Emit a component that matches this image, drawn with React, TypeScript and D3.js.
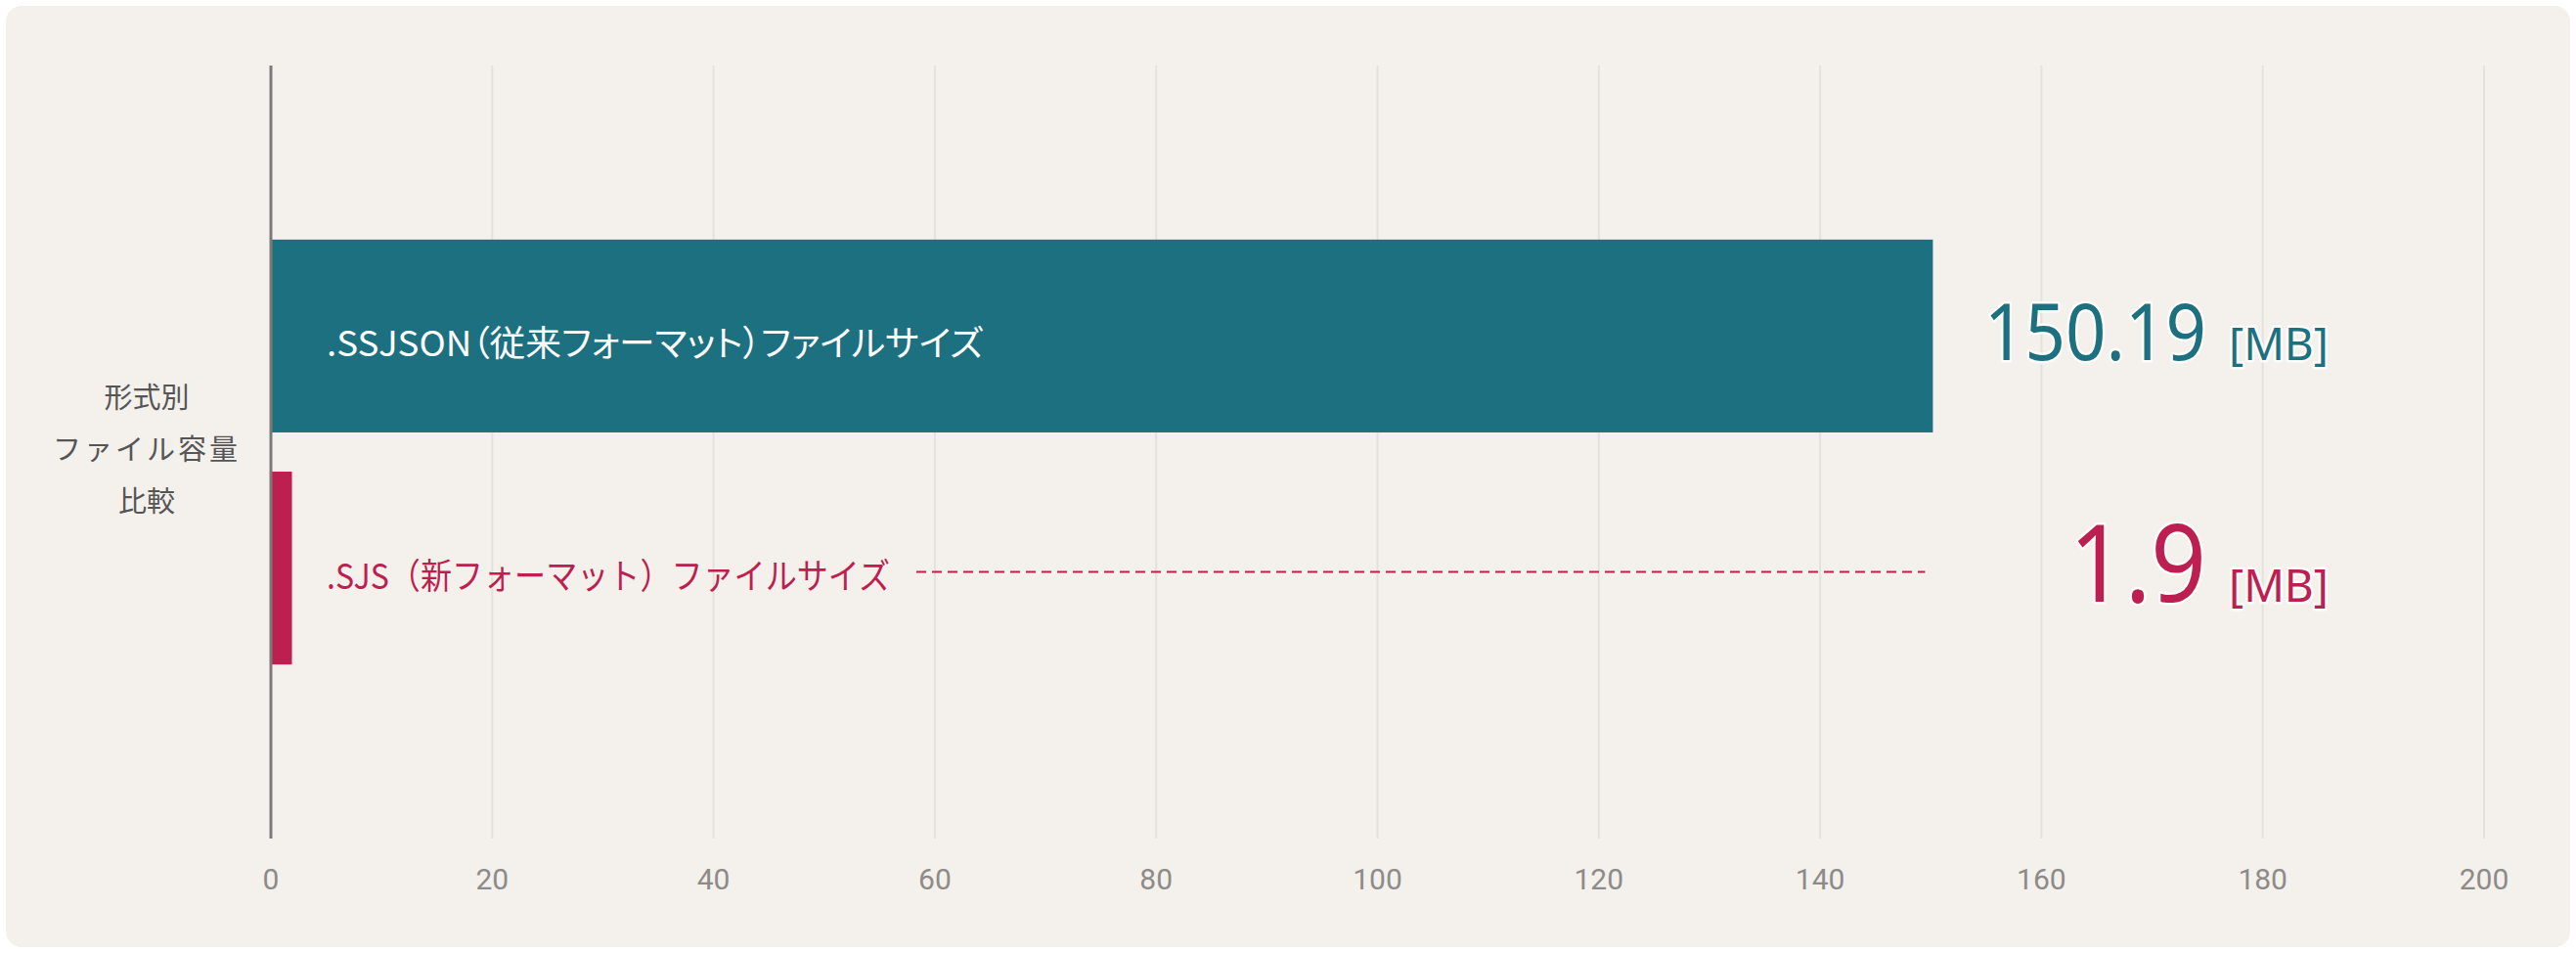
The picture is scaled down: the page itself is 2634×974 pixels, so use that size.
import * as d3 from 'd3'
import { useEffect, useRef } from 'react'

const categories = ['.SSJSON（従来フォーマット）ファイルサイズ', '.SJS（新フォーマット）ファイルサイズ'];
const values = [150.19, 1.9];
const valueLabels = ['150.19', '1.9'];
const unitLabel = '[MB]';
const barColors = ['#1d7080', '#bc1f50'];
const xTicks = [0, 20, 40, 60, 80, 100, 120, 140, 160, 180, 200];
const axisTitle = ['形式別', 'ファイル容量', '比較'];

const W = 2634;
const H = 974;

const drawChart = (el: SVGSVGElement) => {
    const margin = { top: 67, right: 94, bottom: 117, left: 277 };
    const innerWidth = 2540 - margin.left;
    const innerHeight = 857 - margin.top;

    const svg = d3.select(el);
    svg.selectAll('*').remove();

    // card background
    svg.append('rect')
        .attr('x', 6).attr('y', 6)
        .attr('width', W - 12).attr('height', H - 12)
        .attr('rx', 16)
        .attr('fill', '#f4f0ec');

    const g = svg.append('g').attr('transform', `translate(${margin.left},${margin.top})`);

    const x = d3.scaleLinear().domain([0, 200]).range([0, innerWidth]);
    const y = d3.scaleBand<string>()
        .domain(categories)
        .range([0, innerHeight])
        .paddingInner(0.169)
        .paddingOuter(0.75);

    // grid lines
    g.selectAll('line.grid')
        .data(xTicks.filter(t => t !== 0))
        .join('line')
        .attr('class', 'grid')
        .attr('x1', d => x(d)).attr('x2', d => x(d))
        .attr('y1', 0).attr('y2', innerHeight)
        .attr('stroke', '#e4e1de')
        .attr('stroke-width', 2);

    // x tick labels
    g.selectAll('text.tick')
        .data(xTicks)
        .join('text')
        .attr('class', 'tick')
        .attr('x', d => x(d))
        .attr('y', innerHeight + 52)
        .attr('text-anchor', 'middle')
        .attr('font-family', 'Roboto, "Noto Sans", sans-serif')
        .attr('font-size', 30)
        .attr('fill', '#8d8b89')
        .text(d => String(d));

    // bars
    g.selectAll('rect.bar')
        .data(values)
        .join('rect')
        .attr('class', 'bar')
        .attr('x', 0)
        .attr('y', (_, i) => y(categories[i])!)
        .attr('width', d => x(d))
        .attr('height', y.bandwidth())
        .attr('fill', (_, i) => barColors[i]);

    // y axis line
    g.append('line')
        .attr('x1', 0).attr('x2', 0)
        .attr('y1', 0).attr('y2', innerHeight)
        .attr('stroke', '#7c7a78')
        .attr('stroke-width', 3);

    const labelLengths = [671, 576];
    const labelColors = ['#ffffff', barColors[1]];
    categories.forEach((c, i) => {
        const cy = y(c)! + y.bandwidth() / 2;
        g.append('text')
            .attr('x', 57)
            .attr('y', cy + 21)
            .attr('font-family', '"Noto Sans CJK JP", "Noto Sans", sans-serif')
            .attr('font-size', 36)
            .attr('fill', labelColors[i])
            .attr('textLength', labelLengths[i])
            .attr('lengthAdjust', 'spacingAndGlyphs')
            .style('font-feature-settings', i === 0 ? '"palt"' : 'normal')
            .text(c);
    });

    // dashed leader for the small bar
    const cy2 = y(categories[1])! + y.bandwidth() / 2;
    g.append('line')
        .attr('x1', 937 - margin.left).attr('x2', x(values[0]) - 8)
        .attr('y1', cy2 + 4).attr('y2', cy2 + 4)
        .attr('stroke', barColors[1])
        .attr('stroke-width', 2)
        .attr('stroke-dasharray', '10 6');

    // value labels
    const valueSizes = [80, 110];
    const valueLengths = [227, 140];
    const valueBaselines = [368, 615];
    valueLabels.forEach((v, i) => {
        svg.append('text')
            .attr('x', 2256)
            .attr('y', valueBaselines[i])
            .attr('text-anchor', 'end')
            .attr('font-family', '"Noto Sans", sans-serif')
            .attr('font-size', valueSizes[i])
            .attr('fill', barColors[i])
            .attr('stroke', '#ffffff')
            .attr('stroke-width', 5)
            .attr('stroke-opacity', 0.85)
            .attr('stroke-linejoin', 'round')
            .attr('paint-order', 'stroke')
            .attr('textLength', valueLengths[i])
            .attr('lengthAdjust', 'spacingAndGlyphs')
            .text(v);
        svg.append('text')
            .attr('x', 2279)
            .attr('y', valueBaselines[i])
            .attr('font-family', '"Noto Sans", sans-serif')
            .attr('font-size', 46)
            .attr('fill', barColors[i])
            .attr('stroke', '#ffffff')
            .attr('stroke-width', 5)
            .attr('stroke-opacity', 0.85)
            .attr('stroke-linejoin', 'round')
            .attr('paint-order', 'stroke')
            .text(unitLabel);
    });

    // axis title
    svg.selectAll('text.ytitle')
        .data(axisTitle)
        .join('text')
        .attr('class', 'ytitle')
        .attr('x', 150)
        .attr('y', (_, i) => 417 + i * 53)
        .attr('text-anchor', 'middle')
        .attr('font-family', '"Noto Sans CJK JP", sans-serif')
        .attr('font-size', 29)
        .attr('letter-spacing', (_, i) => (i === 1 ? 3 : 0))
        .attr('fill', '#555555')
        .text(d => d);
};

const App = () => {
    const ref = useRef<SVGSVGElement>(null);

    useEffect(() => {
        document.body.style.margin = '0';
        document.body.style.background = '#ffffff';
        if (ref.current) drawChart(ref.current);
    }, []);

    return <svg ref={ref} width={W} height={H} style={{ display: 'block' }}></svg>;
};

export default App;
